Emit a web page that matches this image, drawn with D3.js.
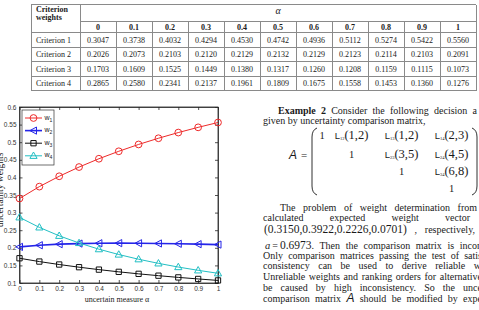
<!DOCTYPE html>
<html>
<head>
<meta charset="utf-8">
<style>
  body { margin: 0; background: #fff; overflow: hidden; }
  svg { display: block; }
  text { white-space: pre; }
  .serif { font-family: "Liberation Serif", "Times New Roman", serif; fill: #1a1a1a; }
  .tbl line { stroke: #8a8a8a; stroke-width: 1; shape-rendering: crispEdges; }
  .axis text { font-family: "Liberation Sans", Arial, sans-serif; font-size: 6.5px; fill: #333; }
  .axis line, .axis path { stroke: #262626; stroke-width: 0.8; }
</style>
</head>
<body>
<svg width="479" height="310"></svg>
<script src="https://d3js.org/d3.v7.min.js"></script>
<script>
// ---- table data ----
var alphaLabels = ["0", "0.1", "0.2", "0.3", "0.4", "0.5", "0.6", "0.7", "0.8", "0.9", "1"];
var criteria = ["Criterion 1", "Criterion 2", "Criterion 3", "Criterion 4"];
var tblCrit1 = ["0.3047", "0.3738", "0.4032", "0.4294", "0.4530", "0.4742", "0.4936", "0.5112", "0.5274", "0.5422", "0.5560"];
var tblCrit2 = ["0.2026", "0.2073", "0.2103", "0.2120", "0.2129", "0.2132", "0.2129", "0.2123", "0.2114", "0.2103", "0.2091"];
var tblCrit3 = ["0.1703", "0.1609", "0.1525", "0.1449", "0.1380", "0.1317", "0.1260", "0.1208", "0.1159", "0.1115", "0.1073"];
var tblCrit4 = ["0.2865", "0.2580", "0.2341", "0.2137", "0.1961", "0.1809", "0.1675", "0.1558", "0.1453", "0.1360", "0.1276"];

// ---- chart data ----
var alphas = [0, 0.1, 0.2, 0.3, 0.4, 0.5, 0.6, 0.7, 0.8, 0.9, 1];
var w1 = [0.340, 0.3738, 0.4032, 0.4294, 0.4530, 0.4742, 0.4936, 0.5112, 0.5274, 0.5422, 0.5560];
var w2 = [0.2026, 0.2073, 0.2103, 0.2120, 0.2129, 0.2132, 0.2129, 0.2123, 0.2114, 0.2103, 0.2091];
var w3 = [0.1703, 0.1609, 0.1525, 0.1449, 0.1380, 0.1317, 0.1260, 0.1208, 0.1159, 0.1115, 0.1073];
var w4 = [0.2865, 0.2580, 0.2341, 0.2137, 0.1961, 0.1809, 0.1675, 0.1558, 0.1453, 0.1360, 0.1276];
var yTicks = [0.1, 0.15, 0.2, 0.25, 0.3, 0.35, 0.4, 0.45, 0.5, 0.55, 0.6];
var yTickLabels = ["0.1", "0.15", "0.2", "0.25", "0.3", "0.35", "0.4", "0.45", "0.5", "0.55", "0.6"];

// ---- matrix of the example ----
var matrixEntries = [
  {r: 0, c: 0, v: "1"}, {r: 0, c: 1, sub: "12", v: "(1,2)"}, {r: 0, c: 2, sub: "13", v: "(1,2)"}, {r: 0, c: 3, sub: "14", v: "(2,3)"},
  {r: 1, c: 1, v: "1"}, {r: 1, c: 2, sub: "23", v: "(3,5)"}, {r: 1, c: 3, sub: "24", v: "(4,5)"},
  {r: 2, c: 2, v: "1"}, {r: 2, c: 3, sub: "34", v: "(6,8)"},
  {r: 3, c: 3, v: "1"}
];

var svg = d3.select("svg");

// ================= table =================
var tbl = svg.append("g").attr("class", "tbl");
var tLeft = 31, tSplit = 80, tRight = 476, tTop = 4.5, hdr1 = 21, hdr2 = 32.5, tBottom = 90.5;
var colX = d3.scaleLinear().domain([0, alphaLabels.length]).range([tSplit, tRight]);
var rowY = d3.scaleLinear().domain([0, criteria.length]).range([hdr2, tBottom]);

// grid
tbl.append("line").attr("x1", tLeft).attr("x2", tRight).attr("y1", tTop).attr("y2", tTop);
tbl.append("line").attr("x1", tSplit).attr("x2", tRight).attr("y1", hdr1).attr("y2", hdr1);
d3.range(criteria.length + 1).forEach(function(i) {
  tbl.append("line").attr("x1", tLeft).attr("x2", tRight).attr("y1", rowY(i)).attr("y2", rowY(i));
});
tbl.append("line").attr("x1", tLeft).attr("x2", tLeft).attr("y1", tTop).attr("y2", tBottom);
tbl.append("line").attr("x1", tSplit).attr("x2", tSplit).attr("y1", tTop).attr("y2", tBottom);
tbl.append("line").attr("x1", tRight).attr("x2", tRight).attr("y1", tTop).attr("y2", tBottom);
d3.range(1, alphaLabels.length).forEach(function(i) {
  tbl.append("line").attr("x1", colX(i)).attr("x2", colX(i)).attr("y1", hdr1).attr("y2", tBottom);
});

tbl.append("text").attr("class", "serif").attr("x", tLeft + 5).attr("y", 11.5)
  .attr("font-size", 8).attr("font-weight", "bold").text("Criterion");
tbl.append("text").attr("class", "serif").attr("x", tLeft + 5).attr("y", 20)
  .attr("font-size", 8).attr("font-weight", "bold").text("weights");
tbl.append("text").attr("class", "serif").attr("x", (tSplit + tRight) / 2).attr("y", 14)
  .attr("font-size", 10).attr("font-style", "italic").attr("text-anchor", "middle").text("α");

tbl.selectAll(".hdr").data(alphaLabels).enter().append("text")
  .attr("class", "serif").attr("font-size", 8).attr("font-weight", "bold")
  .attr("text-anchor", "middle")
  .attr("x", function(d, i) { return (colX(i) + colX(i + 1)) / 2; })
  .attr("y", 29.5)
  .text(function(d) { return d; });

var tblRows = [tblCrit1, tblCrit2, tblCrit3, tblCrit4];
tblRows.forEach(function(row, r) {
  var yb = (rowY(r) + rowY(r + 1)) / 2 + 2.8;
  tbl.append("text").attr("class", "serif").attr("font-size", 8)
    .attr("x", tLeft + 5).attr("y", yb).text(criteria[r]);
  tbl.selectAll(".c" + r).data(row).enter().append("text")
    .attr("class", "serif").attr("font-size", 8).attr("text-anchor", "middle")
    .attr("x", function(d, i) { return (colX(i) + colX(i + 1)) / 2; })
    .attr("y", yb)
    .text(function(d) { return d; });
});

// ================= chart =================
var x = d3.scaleLinear().domain([0, 1]).range([19.5, 218]);
var y = d3.scaleLinear().domain([0.1, 0.6]).range([283, 107]);

svg.append("rect").attr("x", x(0)).attr("y", y(0.6))
  .attr("width", x(1) - x(0)).attr("height", y(0.1) - y(0.6))
  .attr("fill", "#fff").attr("stroke", "#262626").attr("stroke-width", 0.8);

svg.append("g").attr("class", "axis").attr("transform", "translate(0," + y(0.1) + ")")
  .call(d3.axisBottom(x).tickValues(alphas).tickSize(-3).tickSizeOuter(0).tickPadding(3)
    .tickFormat(function(d, i) { return alphaLabels[i]; }));
svg.append("g").attr("class", "axis").attr("transform", "translate(0," + y(0.6) + ")")
  .call(d3.axisTop(x).tickValues(alphas).tickSize(-3).tickSizeOuter(0).tickFormat(""));
svg.append("g").attr("class", "axis").attr("transform", "translate(" + x(0) + ",0)")
  .call(d3.axisLeft(y).tickValues(yTicks).tickSize(-3).tickSizeOuter(0).tickPadding(3)
    .tickFormat(function(d, i) { return yTickLabels[i]; }));
svg.append("g").attr("class", "axis").attr("transform", "translate(" + x(1) + ",0)")
  .call(d3.axisRight(y).tickValues(yTicks).tickSize(-3).tickSizeOuter(0).tickFormat(""));

svg.append("text").attr("class", "serif").attr("font-size", 8).attr("text-anchor", "middle")
  .attr("x", 117).attr("y", 302).text("uncertain measure α");
svg.append("text").attr("class", "serif").attr("font-size", 9.5).attr("text-anchor", "middle")
  .attr("transform", "translate(3,190) rotate(-90)").text("uncertainty weights");

var series = [
  {name: "1", values: w1, color: "#ee2a2a", width: 1, marker: "circle"},
  {name: "2", values: w2, color: "#2424e8", width: 1.6, marker: "left"},
  {name: "3", values: w3, color: "#111", width: 1, marker: "square"},
  {name: "4", values: w4, color: "#22bfc4", width: 1, marker: "up"}
];
var markerPath = {
  circle: d3.symbol().type(d3.symbolCircle).size(36)(),
  square: d3.symbol().type(d3.symbolSquare).size(28)(),
  left: "M-3.6,0L3,-3.6L3,3.6Z",
  up: "M0,-3.8L3.6,2.6L-3.6,2.6Z"
};
var line = d3.line().x(function(d, i) { return x(alphas[i]); }).y(function(d) { return y(d); });

var plot = svg.append("g");
series.forEach(function(s) {
  plot.append("path").attr("d", line(s.values)).attr("fill", "none")
    .attr("stroke", s.color).attr("stroke-width", s.width);
  plot.selectAll(".m" + s.name).data(s.values).enter().append("path")
    .attr("d", markerPath[s.marker])
    .attr("transform", function(d, i) { return "translate(" + x(alphas[i]) + "," + y(d) + ")"; })
    .attr("fill", "none").attr("stroke", s.color).attr("stroke-width", 1);
});

// legend
var lg = svg.append("g");
lg.append("rect").attr("x", 22).attr("y", 110).attr("width", 32).attr("height", 55)
  .attr("fill", "#fff").attr("stroke", "#333").attr("stroke-width", 0.7);
series.forEach(function(s, i) {
  var ly = 118 + i * 12.6;
  lg.append("line").attr("x1", 25).attr("x2", 42).attr("y1", ly).attr("y2", ly)
    .attr("stroke", s.color).attr("stroke-width", s.width);
  lg.append("path").attr("d", markerPath[s.marker]).attr("transform", "translate(33.5," + ly + ")")
    .attr("fill", "none").attr("stroke", s.color);
  var t = lg.append("text").attr("x", 44.5).attr("y", ly + 1.5)
    .attr("font-family", "Liberation Sans, Arial, sans-serif").attr("font-size", 7).attr("fill", "#222");
  t.append("tspan").text("w");
  t.append("tspan").attr("font-size", 5).attr("dy", 2).text(s.name);
});

// ================= text column =================
var fontStyles = {
  n: {size: 10, style: "normal", weight: "normal", family: "Liberation Serif, serif"},
  b: {size: 10, style: "normal", weight: "bold", family: "Liberation Serif, serif"},
  i: {size: 10.5, style: "italic", weight: "normal", family: "Liberation Serif, serif"},
  m: {size: 11.5, style: "normal", weight: "normal", family: "Liberation Serif, serif"},
  A: {size: 12, style: "italic", weight: "normal", family: "Liberation Sans, sans-serif"}
};
var textLines = [
  {x: 278, x1: 477, y: 113.5, segs: [["Example 2", "b"], [" Consider the following decision a", "n"]]},
  {x: 263, x1: null, y: 123.5, segs: [["given by uncertainty comparison matrix,", "n"]]},
  {x: 280, x1: 477, y: 210.5, segs: [["The problem of weight determination from", "n"]]},
  {x: 263, x1: 470, y: 221, segs: [["calculated expected weight vector", "n"]]},
  {x: 264, x1: 475, y: 233, segs: [["(0.3150,0.3922,0.2226,0.0701)", "m"], [" , respectively,", "n"]]},
  {x: 265, x1: 482, y: 248.5, segs: [["a", "i"], ["\u2009=\u2009", "n"], ["0.6973", "m"], [". Then the comparison matrix is incon", "n"]]},
  {x: 263, x1: 482, y: 258.5, segs: [["Only comparison matrices passing the test of satis", "n"]]},
  {x: 263, x1: 481, y: 269, segs: [["consistency can be used to derive reliable w", "n"]]},
  {x: 263, x1: 482, y: 279.5, segs: [["Unreliable weights and ranking orders for alternative", "n"]]},
  {x: 263, x1: 482, y: 290.5, segs: [["be caused by high inconsistency. So the unce", "n"]]},
  {x: 263, x1: 482, y: 301.5, segs: [["comparison matrix ", "n"], ["A", "A"], [" should be modified by expe", "n"]]}
];
textLines.forEach(function(l) {
  var t = svg.append("text").attr("x", l.x).attr("y", l.y).attr("fill", "#1a1a1a");
  l.segs.forEach(function(s) {
    var f = fontStyles[s[1]];
    t.append("tspan").attr("font-size", f.size).attr("font-style", f.style)
      .attr("font-weight", f.weight).attr("font-family", f.family).text(s[0]);
  });
  if (l.x1) {
    var len = t.node().getComputedTextLength();
    var n = (t.text().match(/ /g) || []).length;
    if (n > 0) t.attr("word-spacing", Math.max(0, (l.x1 - l.x - len) / n));
  }
});

// matrix A
var mColX = [322, 351.5, 401.5, 451.5];
var mRowY = [138.5, 157.5, 174.5, 191.5];
svg.append("text").attr("x", 289).attr("y", 158.5)
  .attr("font-family", "Liberation Sans, sans-serif").attr("font-style", "italic")
  .attr("font-size", 12).attr("fill", "#1a1a1a").text("A");
svg.append("text").attr("x", 301).attr("y", 158.5).attr("class", "serif")
  .attr("font-size", 11).text("=");
svg.append("path").attr("d", "M317,128Q312,130 312,137L312,186Q312,193 317,195")
  .attr("fill", "none").attr("stroke", "#1a1a1a").attr("stroke-width", 0.9);
svg.append("path").attr("d", "M472,128Q477,130 477,137L477,186Q477,193 472,195")
  .attr("fill", "none").attr("stroke", "#1a1a1a").attr("stroke-width", 0.9);
matrixEntries.forEach(function(e) {
  var t = svg.append("text").attr("x", mColX[e.c]).attr("y", mRowY[e.r])
    .attr("text-anchor", "middle").attr("fill", "#1a1a1a");
  if (!e.sub) {
    t.attr("class", "serif").attr("font-size", 10.5).text(e.v);
  } else {
    t.append("tspan").attr("font-family", "Liberation Sans, sans-serif").attr("font-size", 9.5).text("L");
    t.append("tspan").attr("font-family", "Liberation Serif, serif").attr("font-size", 4.5).attr("dy", 1.5).text(e.sub);
    t.append("tspan").attr("font-family", "Liberation Serif, serif").attr("font-size", 12.5).attr("dy", -1.5).text(e.v);
  }
});
</script>
</body>
</html>
